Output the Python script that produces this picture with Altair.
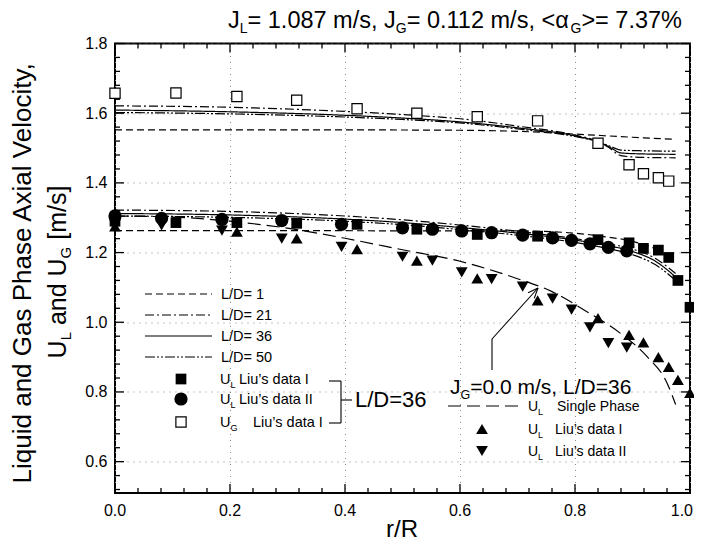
import altair as alt
import pandas as pd
import math

# ---------------- data ----------------
# U_G, Liu's data I (open squares)
ug_r = [0.0, 0.106, 0.212, 0.316, 0.421, 0.525, 0.630, 0.735, 0.840, 0.894, 0.919, 0.945, 0.963]
ug_v = [1.657, 1.658, 1.648, 1.637, 1.613, 1.600, 1.590, 1.578, 1.514, 1.452, 1.426, 1.415, 1.405]
# U_L, Liu's data I (filled squares)
ul1_r = [0.0, 0.106, 0.212, 0.316, 0.421, 0.525, 0.630, 0.735, 0.840, 0.894, 0.919, 0.945, 0.963, 0.979, 1.0]
ul1_v = [1.290, 1.286, 1.286, 1.284, 1.281, 1.267, 1.252, 1.247, 1.237, 1.228, 1.212, 1.207, 1.186, 1.120, 1.043]
# U_L, Liu's data II (filled circles)
ul2_r = [0.0, 0.081, 0.186, 0.290, 0.394, 0.500, 0.552, 0.603, 0.655, 0.709, 0.761, 0.794, 0.826, 0.858, 0.890]
ul2_v = [1.305, 1.298, 1.295, 1.292, 1.281, 1.271, 1.267, 1.262, 1.257, 1.250, 1.242, 1.235, 1.225, 1.215, 1.205]
# J_G = 0, U_L Liu's data I (up triangles)
sp1_r = [0.0, 0.212, 0.316, 0.421, 0.525, 0.630, 0.735, 0.840, 0.894, 0.919, 0.945, 0.963, 0.979, 1.0]
sp1_v = [1.275, 1.260, 1.241, 1.210, 1.177, 1.126, 1.063, 1.012, 0.964, 0.942, 0.900, 0.872, 0.835, 0.797]
# J_G = 0, U_L Liu's data II (down triangles)
sp2_r = [0.0, 0.081, 0.186, 0.290, 0.394, 0.500, 0.552, 0.603, 0.655, 0.709, 0.761, 0.794, 0.826, 0.858, 0.890]
sp2_v = [1.280, 1.278, 1.263, 1.240, 1.216, 1.188, 1.177, 1.143, 1.124, 1.102, 1.068, 1.036, 0.985, 0.940, 0.927]

# model predictions, gas phase
ugm_r = [0.0, 0.2, 0.4, 0.5, 0.6, 0.7, 0.8, 0.84, 0.86, 0.88, 0.92, 0.975]
ug_ld21 = [1.621, 1.617, 1.605, 1.596, 1.584, 1.563, 1.537, 1.519, 1.500, 1.478, 1.473, 1.472]
ug_ld36 = [1.609, 1.604, 1.594, 1.586, 1.575, 1.558, 1.535, 1.518, 1.503, 1.486, 1.483, 1.482]
ug_ld50 = [1.602, 1.598, 1.589, 1.582, 1.572, 1.555, 1.533, 1.518, 1.506, 1.494, 1.492, 1.491]
ug1_r = [0.0, 0.2, 0.4, 0.6, 0.7, 0.8, 0.9, 0.975]
ug_ld1 = [1.552, 1.552, 1.552, 1.551, 1.548, 1.540, 1.531, 1.525]
# model predictions, liquid phase
ulm_r = [0.0, 0.2, 0.4, 0.5, 0.6, 0.7, 0.8, 0.85, 0.9, 0.94, 0.975]
ul_ld21 = [1.322, 1.318, 1.305, 1.294, 1.279, 1.261, 1.240, 1.227, 1.210, 1.183, 1.140]
ul_ld36 = [1.312, 1.308, 1.296, 1.286, 1.272, 1.256, 1.236, 1.222, 1.203, 1.175, 1.130]
ul_ld50 = [1.305, 1.301, 1.290, 1.280, 1.266, 1.250, 1.229, 1.214, 1.194, 1.165, 1.120]
ul1m_r = [0.0, 0.3, 0.6, 0.7, 0.78, 0.85, 0.9, 0.94, 0.97]
ul_ld1 = [1.263, 1.263, 1.262, 1.262, 1.258, 1.246, 1.232, 1.210, 1.175]
# single phase model
sp_r = [0.0, 0.1, 0.2, 0.3, 0.4, 0.5, 0.6, 0.7, 0.76, 0.82, 0.88, 0.925, 0.96, 0.975]
sp_v = [1.305, 1.302, 1.290, 1.270, 1.241, 1.208, 1.175, 1.125, 1.088, 1.031, 0.967, 0.902, 0.826, 0.764]

# axis tick labels
x_tick_vals = [0.0, 0.2, 0.4, 0.6, 0.8, 1.0]
x_tick_labels = ["0.0", "0.2", "0.4", "0.6", "0.8", "1.0"]
y_tick_vals = [0.6, 0.8, 1.0, 1.2, 1.4, 1.6, 1.8]

# ---------------- layout ----------------
PL, PT, W, H = 115, 43.5, 575, 449.5
YMIN, YMAX = 0.51, 1.8
FONT = "Liberation Sans"

def pr(px):
    return (px - PL) / W

def pv(py):
    return YMAX - (py - PT) / H * (YMAX - YMIN)

AW = {' ': 278, '%': 889, "'": 191, '’': 222, ',': 278, '-': 333, '.': 278, '/': 278,
      '<': 584, '=': 584, '>': 584, '[': 278, ']': 278, 'α': 578,
      'A': 667, 'D': 722, 'G': 778, 'I': 278, 'J': 500, 'L': 556, 'P': 667, 'R': 722,
      'S': 667, 'U': 722, 'V': 667,
      'a': 556, 'c': 500, 'd': 556, 'e': 556, 'h': 556, 'i': 222, 'l': 222, 'm': 833,
      'n': 556, 'o': 556, 'q': 556, 'r': 333, 's': 500, 't': 278, 'u': 556, 'x': 500,
      'y': 500, 'g': 556}

def tw(s, size):
    return sum(AW.get(c, 556) for c in s) / 1000.0 * size

def lay(segs, x0, y0, rotated=False):
    rows = []
    pos = 0.0
    for text, size, off in segs:
        lead = len(text) - len(text.lstrip(' '))
        pos += lead * tw(' ', size)
        t = text.strip(' ')
        if rotated:
            px, py = x0 + off, y0 - pos
        else:
            px, py = x0 + pos, y0 + off
        rows.append({"text": t, "size": size, "r": pr(px), "v": pv(py)})
        pos += tw(text.lstrip(' '), size)
    return rows

def seg_width(segs):
    return sum(tw(t, s) for t, s, _ in segs)

XS = alt.Scale(domain=[0, 1], nice=False, zero=False)
YS = alt.Scale(domain=[YMIN, YMAX], nice=False, zero=False)
XAX = alt.Axis(values=x_tick_vals, ticks=False, domain=False, labels=False,
               grid=True, gridDash=[1, 5], gridColor="#8a8a8a", gridWidth=1, title=None)
YAX = alt.Axis(values=y_tick_vals, format=".1f", ticks=False, domain=False,
               grid=True, gridDash=[1, 5], gridColor="#8a8a8a", gridWidth=1,
               labelFontSize=16, labelColor="black", labelPadding=8, labelFlush=False, title=None)
X = alt.X("r:Q", scale=XS, axis=XAX)
Y = alt.Y("v:Q", scale=YS, axis=YAX)

STYLES = ["LD1", "LD21", "LD36", "LD50", "SP"]
DASH = alt.StrokeDash("style:N", scale=alt.Scale(domain=STYLES,
                      range=[[7, 4], [9, 3, 2, 3], [1, 0], [10, 2, 2, 2, 2, 2], [13, 6]]), legend=None)
SW = alt.StrokeWidth("style:N", scale=alt.Scale(domain=STYLES, range=[1.2, 1.2, 1.4, 1.0, 1.2]), legend=None)

# ---------------- model curves ----------------
curve_rows = []
def add_curve(name, style, rs, vs):
    for a, b in zip(rs, vs):
        curve_rows.append({"series": name, "style": style, "r": a, "v": b})

add_curve("ug1", "LD1", ug1_r, ug_ld1)
add_curve("ug21", "LD21", ugm_r, ug_ld21)
add_curve("ug36", "LD36", ugm_r, ug_ld36)
add_curve("ug50", "LD50", ugm_r, ug_ld50)
add_curve("ul1", "LD1", ul1m_r, ul_ld1)
add_curve("ul21", "LD21", ulm_r, ul_ld21)
add_curve("ul36", "LD36", ulm_r, ul_ld36)
add_curve("ul50", "LD50", ulm_r, ul_ld50)
add_curve("sp", "SP", sp_r, sp_v)

curves = alt.Chart(pd.DataFrame(curve_rows)).mark_line(color="black", interpolate="monotone").encode(
    x=X, y=Y, detail="series:N", strokeDash=DASH, strokeWidth=SW)

# ---------------- data points ----------------
def pts(rs, vs, shape, size, fill="black", sw=0.0):
    df = pd.DataFrame({"r": rs, "v": vs})
    return alt.Chart(df).mark_point(shape=shape, size=size, fill=fill, fillOpacity=1, stroke="black",
                                    strokeWidth=sw, opacity=1, filled=(fill == "black")).encode(x=X, y=Y)

p_down = pts(sp2_r, sp2_v, "triangle-down", 140)
p_up = pts(sp1_r, sp1_v, "triangle-up", 140)
p_sq = pts(ul1_r, ul1_v, "square", 115)
p_ci = pts(ul2_r, ul2_v, "circle", 175)
p_open = pts(ug_r, ug_v, "square", 105, fill="white", sw=1.2)

# ---------------- frame ticks (inside) ----------------
dv = (YMAX - YMIN) / H
dr = 1.0 / W
tick_rows = []
for i in range(26):
    r = round(i * 0.04, 2)
    L = 9 if i % 5 == 0 else 5
    tick_rows.append({"r": r, "v": YMIN, "r2": r, "v2": YMIN + L * dv})
    tick_rows.append({"r": r, "v": YMAX, "r2": r, "v2": YMAX - L * dv})
for k in range(33):
    v = round(0.52 + 0.04 * k, 2)
    L = 9 if round(v * 100) % 20 == 0 else 5
    tick_rows.append({"r": 0, "v": v, "r2": L * dr, "v2": v})
    tick_rows.append({"r": 1, "v": v, "r2": 1 - L * dr, "v2": v})
ticks = alt.Chart(pd.DataFrame(tick_rows)).mark_rule(color="black", strokeWidth=1.3).encode(
    x=X, y=Y, x2="r2:Q", y2="v2:Q")

# ---------------- annotation segments (bracket, arrow) ----------------
seg_px = [
    (329, 381, 341, 381), (341, 381, 341, 423), (329, 423, 341, 423), (341, 400, 352, 400),
    (492, 370, 492, 339), (492, 339, 538, 288),
]
tx, ty, cx, cy = 538, 288, 492, 339
ang = math.atan2(ty - cy, tx - cx)
for d in (math.radians(22), -math.radians(22)):
    a = ang + math.pi + d
    seg_px.append((tx, ty, tx + 11 * math.cos(a), ty + 11 * math.sin(a)))
seg_rows = [{"r": pr(a), "v": pv(b), "r2": pr(c), "v2": pv(d)} for a, b, c, d in seg_px]
segs = alt.Chart(pd.DataFrame(seg_rows)).mark_rule(color="black", strokeWidth=1.1).encode(
    x=X, y=Y, x2="r2:Q", y2="v2:Q")

# ---------------- legend samples ----------------
leg_lines = pd.DataFrame([
    {"style": "LD1", "r": pr(145), "r2": pr(212), "v": pv(294)},
    {"style": "LD21", "r": pr(145), "r2": pr(212), "v": pv(315)},
    {"style": "LD36", "r": pr(145), "r2": pr(212), "v": pv(336)},
    {"style": "LD50", "r": pr(145), "r2": pr(212), "v": pv(357)},
    {"style": "SP", "r": pr(448), "r2": pr(520), "v": pv(406)},
])
leg_line_layer = alt.Chart(leg_lines).mark_rule(color="black").encode(
    x=X, x2="r2:Q", y=Y, strokeDash=DASH, strokeWidth=SW)

l_sq = pts([pr(181)], [pv(379)], "square", 115)
l_ci = pts([pr(181)], [pv(399)], "circle", 175)
l_open = pts([pr(181)], [pv(422)], "square", 105, fill="white", sw=1.2)
l_up = pts([pr(482)], [pv(429)], "triangle-up", 140)
l_down = pts([pr(482)], [pv(451)], "triangle-down", 140)

# ---------------- texts ----------------
texts = []
# title
texts += lay([("J", 23.5, 0), ("L", 14, 5), ("= 1.087 m/s, J", 23.5, 0), ("G", 14, 5),
              ("= 0.112 m/s, <α", 23.5, 0), ("G", 14, 5), (">= 7.37%", 23.5, 0)], 228, 28)
# x tick labels (drawn as text so the last one stays inside the page)
for val, lab in zip(x_tick_vals, x_tick_labels):
    w = tw(lab, 16)
    c = min(PL + val * W, 693 - w / 2)
    texts += lay([(lab, 16, 0)], c - w / 2, 516)
# x-axis title
rr = [("r/R", 24, 0)]
texts += lay(rr, 402 - seg_width(rr) / 2, 537)
# left legend
LS = 14.5
for lab, cy_ in [("L/D= 1", 294), ("L/D= 21", 315), ("L/D= 36", 336), ("L/D= 50", 357)]:
    texts += lay([(lab, LS, 0)], 221, cy_ + 5)
texts += lay([("U", LS, 0), ("L", 9, 4)], 220, 384)
texts += lay([("Liu’s data I", LS, 0)], 239, 384)
texts += lay([("U", LS, 0), ("L", 9, 4)], 220, 404)
texts += lay([("Liu’s data II", LS, 0)], 239, 404)
texts += lay([("U", LS, 0), ("G", 9, 4)], 220, 427)
texts += lay([("Liu’s data I", LS, 0)], 253, 427)
texts += lay([("L/D=36", 22, 0)], 355, 407)
# right legend
texts += lay([("J", 21, 0), ("G", 12.5, 5), ("=0.0 m/s, L/D=36", 21, 0)], 450, 394)
RS = 14
texts += lay([("U", RS, 0), ("L", 9, 4)], 528, 411)
texts += lay([("Single Phase", RS, 0)], 557, 411)
texts += lay([("U", RS, 0), ("L", 9, 4)], 528, 434)
texts += lay([("Liu’s data I", RS, 0)], 555, 434)
texts += lay([("U", RS, 0), ("L", 9, 4)], 528, 456)
texts += lay([("Liu’s data II", RS, 0)], 555, 456)

text_layer = alt.Chart(pd.DataFrame(texts)).mark_text(
    align="left", baseline="alphabetic", color="black", font=FONT).encode(
    x=X, y=Y, text="text:N", size=alt.Size("size:Q", scale=None, legend=None))

# rotated y-axis title
yt1 = [("Liquid and Gas Phase Axial Velocity,", 26, 0)]
yt2 = [("U", 25, 0), ("L", 15, 5), (" and U", 25, 0), ("G", 15, 5), (" [m/s]", 25, 0)]
rot = lay(yt1, 31, 271 + seg_width(yt1) / 2, rotated=True)
rot += lay(yt2, 66, 272 + seg_width(yt2) / 2, rotated=True)
rot_layer = alt.Chart(pd.DataFrame(rot)).mark_text(
    align="left", baseline="alphabetic", color="black", font=FONT, angle=270).encode(
    x=X, y=Y, text="text:N", size=alt.Size("size:Q", scale=None, legend=None))

chart = alt.layer(
    curves, ticks, p_down, p_up, p_sq, p_ci, p_open, segs, leg_line_layer,
    l_sq, l_ci, l_open, l_up, l_down, text_layer, rot_layer
).properties(
    width=W, height=H,
    padding={"left": PL - 8, "top": PT - 8, "right": 686 - (PL - 8) - W, "bottom": 541 - (PT + H)},
    autosize=alt.AutoSizeParams(type="none"),
    background="white",
).configure(font=FONT).configure_view(stroke="black", strokeWidth=2)

chart.save("out.html", embed_options={"renderer": "svg", "actions": False})
